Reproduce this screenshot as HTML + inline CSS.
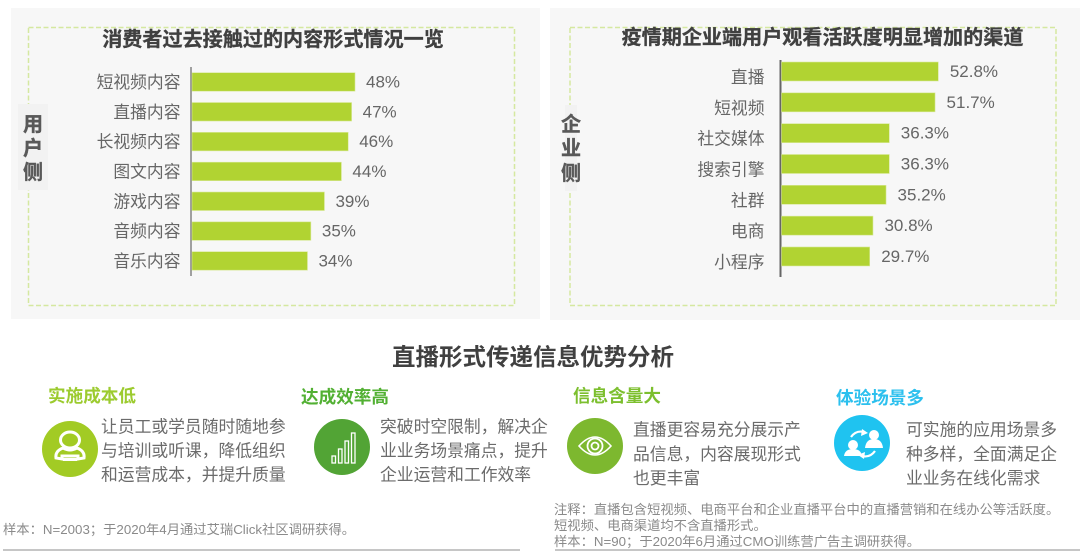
<!DOCTYPE html>
<html lang="zh"><head><meta charset="utf-8"><title>直播形式传递信息优势分析</title>
<style>
html,body{margin:0;padding:0;background:#fff;width:1080px;height:552px;overflow:hidden}
svg{display:block;filter:blur(0.3px)}
text{font-family:"Liberation Sans","Noto Sans CJK SC",sans-serif}
.ttl{font-size:20.1px;font-weight:700;fill:#404040;stroke:#404040;stroke-width:.3px}
.lab{font-size:16.8px;fill:#666}
.val{font-size:17px;fill:#666}
.side{font-size:20px;font-weight:700;fill:#595959;stroke:#595959;stroke-width:.4px;text-anchor:middle}
.sub{font-size:17.6px;font-weight:700}
.body{font-size:16.8px;fill:#6b6b6b}
.note{font-size:13.3px;fill:#8a8a8a}
</style></head><body>
<svg id="root" xmlns="http://www.w3.org/2000/svg" width="1080" height="552" viewBox="0 0 1080 552">
<rect x="11" y="8" width="529" height="311" fill="#f7f7f7"/>
<rect x="550" y="8" width="530" height="312" fill="#f7f7f7"/>
<rect x="28.5" y="27.5" width="486" height="278" fill="none" stroke="#d5e8a0" stroke-width="1.5" stroke-dasharray="5 2.5"/>
<rect x="570" y="27.5" width="486" height="278" fill="none" stroke="#d5e8a0" stroke-width="1.5" stroke-dasharray="5 2.5"/>
<text class="ttl" x="273" y="46" text-anchor="middle">消费者过去接触过的内容形式情况一览</text>
<text class="ttl" x="822.5" y="44" text-anchor="middle">疫情期企业端用户观看活跃度明显增加的渠道</text>
<rect x="18" y="104" width="30" height="86" fill="#f2f2f2"/>
<text class="side"><tspan x="33" y="131">用</tspan><tspan x="33" y="155">户</tspan><tspan x="33" y="179">侧</tspan></text>
<rect x="565" y="105" width="12" height="86" fill="#f2f2f2"/>
<text class="side"><tspan x="571" y="131">企</tspan><tspan x="571" y="155">业</tspan><tspan x="571" y="180">侧</tspan></text>
<g id="chart-left"></g>
<g id="chart-right"></g>

<text x="533" y="365" text-anchor="middle" font-size="23.5" font-weight="700" fill="#404040">直播形式传递信息优势分析</text>

<text class="sub" x="48" y="402" fill="#9ccb2f">实施成本低</text>
<circle cx="70" cy="449" r="28" fill="#a2cb24"/>
<g fill="none" stroke="#fff" stroke-width="3">
<ellipse cx="70" cy="440" rx="9.5" ry="8"/>
<path d="M63 448 Q55 451 56 458 L62 459 L62 456 L78 456 L78 459 L84 458 Q85 451 77 448 Q70 452 63 448Z"/>
<line x1="63" y1="459.500" x2="77" y2="459.500"/>
</g>
<text class="body"><tspan x="101" y="432.5">让员工或学员随时随地参</tspan><tspan x="101" y="456.5">与培训或听课，降低组织</tspan><tspan x="101" y="480.5">和运营成本，并提升质量</tspan></text>

<text class="sub" x="301" y="403" fill="#52b033">达成效率高</text>
<circle cx="342" cy="447" r="28" fill="#52a435"/>
<g fill="none" stroke="#fff" stroke-width="1.3">
<rect x="332" y="456" width="3.5" height="7"/><rect x="338.500" y="449" width="3.5" height="14"/><rect x="345" y="441" width="3.5" height="22"/><rect x="351.500" y="433" width="3.5" height="30"/>
</g>
<text class="body"><tspan x="380" y="432.5">突破时空限制，解决企</tspan><tspan x="380" y="456.5">业业务场景痛点，提升</tspan><tspan x="380" y="480.5">企业运营和工作效率</tspan></text>

<text class="sub" x="573" y="402" fill="#7cbf2e">信息含量大</text>
<circle cx="595" cy="446" r="28" fill="#7db82f"/>
<g fill="none" stroke="#fff">
<path d="M579 446 Q595 428 611 446 Q595 464 579 446Z" stroke-width="1.6"/>
<circle cx="595" cy="446" r="7.500" stroke-width="1.800"/><circle cx="595" cy="446" r="3.500" stroke-width="1.800"/>
</g>
<text class="body"><tspan x="633" y="435.5">直播更容易充分展示产</tspan><tspan x="633" y="460">品信息，内容展现形式</tspan><tspan x="633" y="484">也更丰富</tspan></text>

<text class="sub" x="836" y="404" fill="#2cc0ee">体验场景多</text>
<circle cx="862" cy="443" r="28" fill="#1fc3f0"/>
<g fill="#fff">
<circle cx="853" cy="445" r="5"/><path d="M844 456 Q845 449 853 449 Q861 449 862 456Z"/>
<circle cx="874" cy="435" r="5"/><path d="M865 448 Q866 439 874 439 Q882 439 883 448Z"/>
<path d="M851 437 Q856 430 864 432" fill="none" stroke="#fff" stroke-width="2.200"/><path d="M862 429 L868 433 L861 436Z"/>
<path d="M875 451 Q870 458 862 456" fill="none" stroke="#fff" stroke-width="2.200"/><path d="M864 459 L858 455 L865 452Z"/>
</g>
<text class="body"><tspan x="906" y="435.5">可实施的应用场景多</tspan><tspan x="906" y="460">种多样，全面满足企</tspan><tspan x="906" y="484">业业务在线化需求</tspan></text>

<text class="note" x="3" y="534">样本：N=2003；于2020年4月通过艾瑞Click社区调研获得。</text>
<text class="note"><tspan x="554" y="514">注释：直播包含短视频、电商平台和企业直播平台中的直播营销和在线办公等活跃度。</tspan><tspan x="554" y="530">短视频、电商渠道均不含直播形式。</tspan><tspan x="554" y="546">样本：N=90；于2020年6月通过CMO训练营广告主调研获得。</tspan></text>
<line x1="3" y1="550" x2="520" y2="550" stroke="#8c8c8c" stroke-width="1"/>
<line x1="555" y1="550" x2="1080" y2="550" stroke="#8c8c8c" stroke-width="1"/>
</svg>
<script>
const leftCategories = ['短视频内容','直播内容','长视频内容','图文内容','游戏内容','音频内容','音乐内容'];
const leftValues = [48,47,46,44,39,35,34];
const leftValueLabels = ['48%','47%','46%','44%','39%','35%','34%'];
const rightCategories = ['直播','短视频','社交媒体','搜索引擎','社群','电商','小程序'];
const rightValues = [52.8,51.7,36.3,36.3,35.2,30.8,29.7];
const rightValueLabels = ['52.8%','51.7%','36.3%','36.3%','35.2%','30.8%','29.7%'];

const NS = 'http://www.w3.org/2000/svg';
function mk(parent, tag, attrs) {
  const el = document.createElementNS(NS, tag);
  for (const k in attrs) el.setAttribute(k, attrs[k]);
  parent.appendChild(el);
  return el;
}
function drawChart(host, cats, vals, labels, o) {
  const xScale = v => o.x0 + v * o.pxPerUnit;
  const yBand = i => o.top + i * o.pitch;
  const axis = mk(host, 'line', {x1: o.x0 - 1, x2: o.x0 - 1, y1: o.axisTop, y2: o.axisBottom, stroke: '#666', 'stroke-width': o.axisWidth});
  
  
  cats.forEach((c, i) => {
    const y = yBand(i);
    const bar = mk(host, 'rect', {x: o.x0, y: y, width: xScale(vals[i]) - o.x0, height: o.barH, fill: '#b1d332', stroke: '#d9e99b', 'stroke-width': 0.6});
    
    
    const cat = mk(host, 'text', {x: o.x0 - o.labelGap, y: y + o.barH / 2 + 6 + o.labelShift, 'text-anchor': 'end', class: 'lab'});
    cat.textContent = c;
    
    
    const val = mk(host, 'text', {x: xScale(vals[i]) + o.valueGap, y: y + o.barH / 2 + 5.500, class: 'val'});
    val.textContent = labels[i];
    
    
  });
}
drawChart(document.getElementById('chart-left'), leftCategories, leftValues, leftValueLabels,
  {x0: 192, pxPerUnit: 3.396, top: 72.7, pitch: 29.83, barH: 18.5, axisTop: 67, axisBottom: 276, axisWidth: 1.2, labelShift: 0, labelGap: 11.500, valueGap: 11});
drawChart(document.getElementById('chart-right'), rightCategories, rightValues, rightValueLabels,
  {x0: 781.5, pxPerUnit: 2.97, top: 62, pitch: 30.83, barH: 19, axisTop: 60, axisBottom: 277, axisWidth: 2, labelShift: 5.500, labelGap: 17, valueGap: 11.500});
</script>
</body></html>
